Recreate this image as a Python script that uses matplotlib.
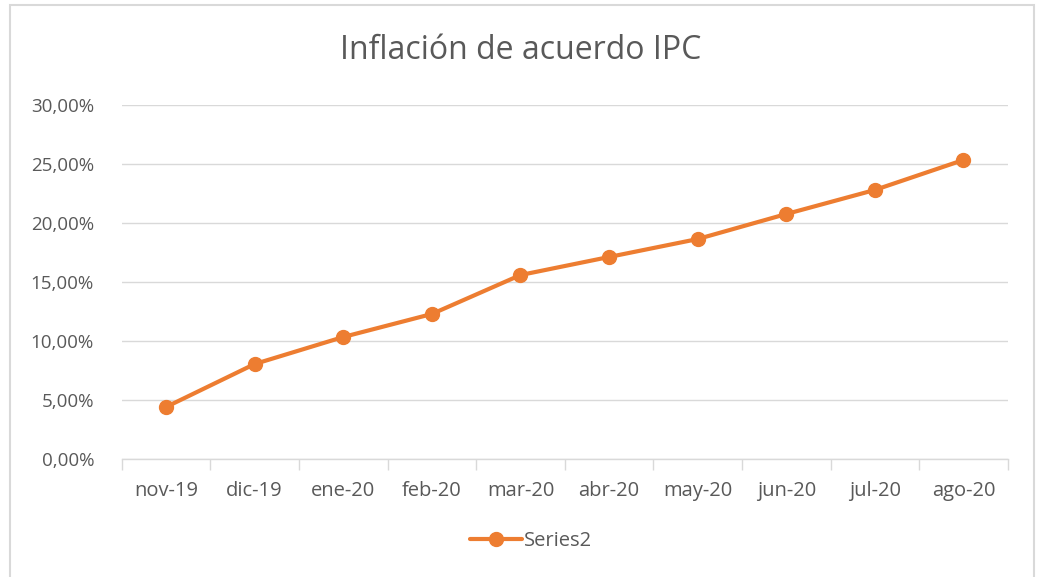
import matplotlib.pyplot as plt
from matplotlib.patches import Rectangle
from matplotlib.ticker import FuncFormatter, FixedLocator

months = ['nov-19', 'dic-19', 'ene-20', 'feb-20', 'mar-20',
          'abr-20', 'may-20', 'jun-20', 'jul-20', 'ago-20']
ipc = [4.41, 8.05, 10.34, 12.29, 15.59, 17.12, 18.64, 20.76, 22.80, 25.34]

orange = '#ED7D31'
text_col = '#595959'
grid_col = '#D9D9D9'

plt.rcParams['font.family'] = ['Open Sans', 'DejaVu Sans']

fig = plt.figure(figsize=(10.41, 5.77), dpi=100)
fig.patches.append(Rectangle((10 / 1041, -0.01), 1024 / 1041, 1 - 5 / 577 + 0.01,
                             transform=fig.transFigure, fill=False,
                             edgecolor=grid_col, linewidth=1.5))

ax = fig.add_axes([0.117, 0.2045, 0.851, 0.6135])
x = list(range(len(months)))
ax.plot(x, ipc, color=orange, linewidth=3, marker='o', markersize=10,
        label='Series2', solid_capstyle='round')

ax.set_xlim(-0.5, len(months) - 0.5)
ax.set_ylim(0, 30)
ax.set_yticks([0, 5, 10, 15, 20, 25, 30])
ax.yaxis.set_major_formatter(FuncFormatter(lambda v, p: f'{v:.2f}%'.replace('.', ',')))
ax.set_xticks(x)
ax.set_xticklabels(months)
ax.xaxis.set_minor_locator(FixedLocator([i - 0.5 for i in range(len(months) + 1)]))

ax.grid(axis='y', color=grid_col, linewidth=1)
ax.set_axisbelow(True)
for s in ['top', 'right', 'left']:
    ax.spines[s].set_visible(False)
ax.spines['bottom'].set_color(grid_col)
ax.spines['bottom'].set_linewidth(1)

ax.tick_params(axis='y', length=0, labelsize=13.5, labelcolor=text_col, pad=20)
ax.tick_params(axis='x', which='major', length=0, labelsize=14.5, labelcolor=text_col, pad=16)
ax.tick_params(axis='x', which='minor', length=8, color=grid_col, width=1, direction='out')

fig.text(0.5, 0.912, 'Inflación de acuerdo IPC', ha='center', va='center',
         fontsize=23, color=text_col)

fig.legend(loc='center', bbox_to_anchor=(0.51, 0.062), frameon=False,
           fontsize=14.5, labelcolor=text_col, handlelength=2.6, handletextpad=0.1)

fig.savefig('out.png', dpi=100)
